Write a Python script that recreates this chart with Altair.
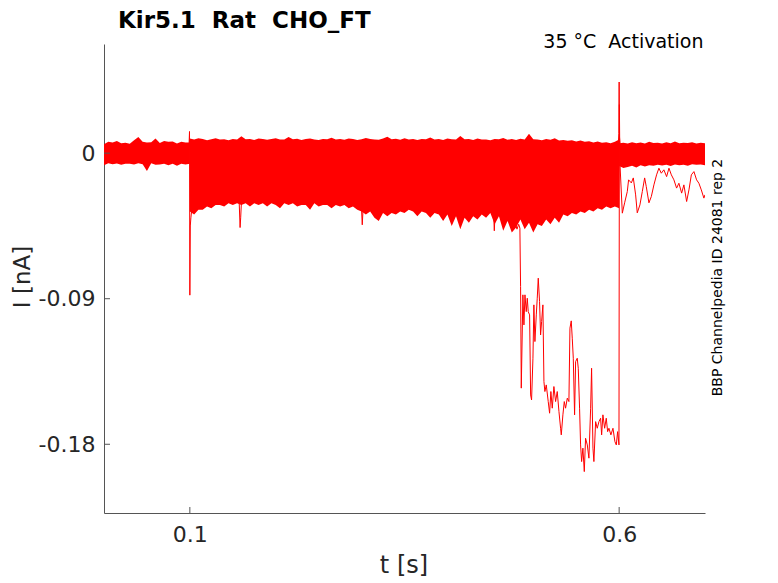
import altair as alt
import pandas as pd

RED = "#ff0000"
AXC = "#555555"
TXT = "#262626"
FONT = "DejaVu Sans"

# ---------------- data ----------------
# noise-band envelopes, sampled every 5 ms
# segment A: 0 .. 0.1 s (holding level)
A_hi = [0.0055, 0.0070, 0.0066, 0.0075, 0.0062, 0.0064, 0.0058, 0.0080, 0.0100, 0.0070,
        0.0066, 0.0068, 0.0090, 0.0063, 0.0075, 0.0070, 0.0072, 0.0060, 0.0070, 0.0066, 0.0066]
A_lo = [-0.0075, -0.0062, -0.0068, -0.0064, -0.0072, -0.0066, -0.0066, -0.0070, -0.0062, -0.0068,
        -0.0110, -0.0062, -0.0072, -0.0070, -0.0066, -0.0075, -0.0065, -0.0078, -0.0066, -0.0070, -0.0066]
# segment B: 0.1 .. 0.6 s (test pulses)
B_hi = [0.0090, 0.0084, 0.0092, 0.0088, 0.0080, 0.0086, 0.0092, 0.0085, 0.0086, 0.0080,
        0.0088, 0.0084, 0.0105, 0.0086, 0.0088, 0.0082, 0.0090, 0.0087, 0.0083, 0.0088,
        0.0092, 0.0085, 0.0084, 0.0100, 0.0086, 0.0089, 0.0082, 0.0088, 0.0090, 0.0084,
        0.0081, 0.0088, 0.0086, 0.0096, 0.0084, 0.0088, 0.0083, 0.0090, 0.0087, 0.0082,
        0.0086, 0.0094, 0.0088, 0.0084, 0.0083, 0.0090, 0.0102, 0.0086, 0.0089, 0.0083,
        0.0092, 0.0085, 0.0087, 0.0082, 0.0088, 0.0086, 0.0097, 0.0084, 0.0088, 0.0082,
        0.0090, 0.0086, 0.0084, 0.0106, 0.0086, 0.0088, 0.0082, 0.0090, 0.0085, 0.0084,
        0.0080, 0.0088, 0.0086, 0.0094, 0.0083, 0.0087, 0.0082, 0.0089, 0.0085, 0.0120,
        0.0086, 0.0085, 0.0080, 0.0087, 0.0083, 0.0092, 0.0078, 0.0082, 0.0076, 0.0080,
        0.0072, 0.0078, 0.0070, 0.0074, 0.0066, 0.0072, 0.0064, 0.0068, 0.0062, 0.0070, 0.0085]
B_lo = [-0.036, -0.038, -0.035, -0.035, -0.033, -0.034, -0.032, -0.032, -0.033, -0.031,
        -0.032, -0.031, -0.032, -0.031, -0.033, -0.031, -0.032, -0.031, -0.033, -0.031,
        -0.032, -0.034, -0.031, -0.032, -0.031, -0.033, -0.032, -0.032, -0.035, -0.031,
        -0.033, -0.032, -0.032, -0.034, -0.032, -0.033, -0.032, -0.034, -0.033, -0.035,
        -0.036, -0.038, -0.036, -0.040, -0.042, -0.037, -0.039, -0.037, -0.038, -0.036,
        -0.037, -0.035, -0.036, -0.039, -0.036, -0.037, -0.040, -0.037, -0.038, -0.042,
        -0.038, -0.045, -0.039, -0.047, -0.040, -0.043, -0.039, -0.041, -0.038, -0.040,
        -0.037, -0.044, -0.039, -0.048, -0.042, -0.049, -0.046, -0.041, -0.047, -0.043,
        -0.049, -0.044, -0.045, -0.041, -0.044, -0.040, -0.043, -0.038, -0.039, -0.037,
        -0.038, -0.036, -0.037, -0.035, -0.036, -0.034, -0.035, -0.033, -0.034, -0.033, -0.034]
# segment C: 0.6 .. 0.7 s (tail)
C_hi = [0.0062, 0.0065, 0.0060, 0.0068, 0.0062, 0.0066, 0.0060, 0.0070, 0.0063, 0.0064,
        0.0060, 0.0068, 0.0062, 0.0072, 0.0061, 0.0065, 0.0063, 0.0067, 0.0060, 0.0064, 0.0062]
C_lo = [-0.0080, -0.0092, -0.0085, -0.0078, -0.0088, -0.0075, -0.0082, -0.0074, -0.0078, -0.0072,
        -0.0076, -0.0072, -0.0080, -0.0070, -0.0074, -0.0071, -0.0078, -0.0069, -0.0072, -0.0070, -0.0075]
A_t0, B_t0, C_t0, DT = 0.0, 0.1, 0.6, 0.005

# narrow transients
step_t = [0.0990, 0.0996, 0.1000, 0.1005, 0.1012, 0.1020]
step_i = [0.0040, 0.0134, -0.0878, -0.0450, -0.0400, -0.0360]
dip1_t = [0.1575, 0.1585, 0.1592, 0.1600]
dip1_i = [-0.031, -0.046, -0.040, -0.031]
dip2_t = [0.3000, 0.3008, 0.3016]
dip2_i = [-0.035, -0.0443, -0.036]
dip3_t = [0.4538, 0.4546, 0.4554]
dip3_i = [-0.037, -0.0480, -0.038]
end_t = [0.5990, 0.5996, 0.6000, 0.6004, 0.6010]
end_i = [0.0050, 0.0120, 0.0440, 0.0100, 0.0060]

# the trace that opens strongly near 0.48 s and stays partly open after 0.6 s
big_t = [0.4780, 0.4810, 0.4830, 0.4844, 0.4852, 0.4860, 0.4879, 0.4891, 0.4903, 0.4918,
         0.4930, 0.4941, 0.4957, 0.4969, 0.4980, 0.4996, 0.5007, 0.5019, 0.5035, 0.5046,
         0.5058, 0.5073, 0.5085, 0.5097, 0.5112, 0.5124, 0.5135, 0.5151, 0.5174, 0.5190,
         0.5205, 0.5221, 0.5240, 0.5260, 0.5279, 0.5299, 0.5318, 0.5326, 0.5345, 0.5361,
         0.5376, 0.5396, 0.5415, 0.5427, 0.5442, 0.5454, 0.5466, 0.5481, 0.5493, 0.5512,
         0.5524, 0.5539, 0.5551, 0.5563, 0.5578, 0.5594, 0.5609, 0.5629, 0.5648, 0.5668,
         0.5679, 0.5695, 0.5706, 0.5726, 0.5745, 0.5765, 0.5784, 0.5796, 0.5811, 0.5831,
         0.5850, 0.5866, 0.5881, 0.5904, 0.5928, 0.5951, 0.5967, 0.5982, 0.5998, 0.6003,
         0.6008,
         0.6037, 0.6064, 0.6095, 0.6110, 0.6142, 0.6165, 0.6192, 0.6211, 0.6242, 0.6270,
         0.6297, 0.6316, 0.6347, 0.6375, 0.6405, 0.6436, 0.6463, 0.6491, 0.6521, 0.6553,
         0.6580, 0.6608, 0.6638, 0.6669, 0.6696, 0.6728, 0.6754, 0.6786, 0.6813, 0.6841,
         0.6871, 0.6902, 0.6929, 0.6957, 0.6987, 0.6999]
big_i = [-0.0410, -0.0470, -0.0440, -0.0464, -0.0825, -0.1453, -0.0876, -0.1062, -0.0876, -0.0980,
         -0.0897, -0.0980, -0.1000, -0.1495, -0.1526, -0.1268, -0.0938, -0.1165, -0.1000, -0.0897,
         -0.0773, -0.0918, -0.1124, -0.1041, -0.0938, -0.1412, -0.1474, -0.1433, -0.1536, -0.1608,
         -0.1474, -0.1577, -0.1443, -0.1536, -0.1474, -0.1598, -0.1701, -0.1742, -0.1618, -0.1536,
         -0.1577, -0.1515, -0.1536, -0.1082, -0.1037, -0.1144, -0.1268, -0.1618, -0.1289, -0.1268,
         -0.1330, -0.1577, -0.1804, -0.1907, -0.1824, -0.1969, -0.1763, -0.1804, -0.1886, -0.1577,
         -0.1330, -0.1824, -0.1907, -0.1660, -0.1701, -0.1660, -0.1639, -0.1742, -0.1618, -0.1701,
         -0.1639, -0.1722, -0.1701, -0.1742, -0.1701, -0.1784, -0.1804, -0.1722, -0.1804, 0.0300,
         -0.0050,
         -0.0371, -0.0307, -0.0237, -0.0165, -0.0184, -0.0153, -0.0258, -0.0369, -0.0320, -0.0237,
         -0.0153, -0.0207, -0.0307, -0.0268, -0.0196, -0.0134, -0.0093, -0.0124, -0.0103, -0.0145,
         -0.0093, -0.0134, -0.0165, -0.0216, -0.0186, -0.0247, -0.0196, -0.0299, -0.0227, -0.0134,
         -0.0114, -0.0165, -0.0186, -0.0227, -0.0278, -0.0258]

x_ticks = [0.1, 0.6]
x_tick_labels = ["0.1", "0.6"]
y_ticks = [0, -0.09, -0.18]
y_tick_labels = ["0", "-0.09", "-0.18"]

NB = "\u00a0"  # keeps the doubled spaces of the original labels
TITLE = f"Kir5.1 {NB}Rat {NB}CHO_FT"
SUBTITLE = f"35 \u00b0C {NB}Activation"
SIDE = "BBP Channelpedia ID 24081 rep 2"
XTITLE = "t [s]"
YTITLE = "I [nA]"

# ---------------- tables ----------------
rows = []
for seg, t0, hi, lo in (("A", A_t0, A_hi, A_lo), ("B", B_t0, B_hi, B_lo), ("C", C_t0, C_hi, C_lo)):
    assert len(hi) == len(lo), seg
    for k, (h, l) in enumerate(zip(hi, lo)):
        rows.append({"seg": seg, "t": round(t0 + k * DT, 4), "hi": h, "lo": l})
band_df = pd.DataFrame(rows)

lrows = []
for name, ts, vs in (("step", step_t, step_i), ("dip1", dip1_t, dip1_i), ("dip2", dip2_t, dip2_i),
                     ("dip3", dip3_t, dip3_i), ("end", end_t, end_i), ("big", big_t, big_i)):
    assert len(ts) == len(vs), name
    for k, (t, v) in enumerate(zip(ts, vs)):
        lrows.append({"id": name, "k": k, "t": t, "i": v})
line_df = pd.DataFrame(lrows)

W, H = 601, 469
xs = alt.Scale(domain=[0, 0.7], nice=False, zero=False)
ys = alt.Scale(domain=[-0.2225, 0.0675], nice=False, zero=False)

lab_expr = " : ".join(
    f"abs(datum.value - ({v})) < 1e-9 ? '{l}'" for v, l in zip(y_ticks, y_tick_labels)
) + " : ''"
xlab_expr = " : ".join(
    f"abs(datum.value - ({v})) < 1e-9 ? '{l}'" for v, l in zip(x_ticks, x_tick_labels)
) + " : ''"

xaxis = alt.Axis(values=x_ticks, labelExpr=xlab_expr, title=None, ticks=False, grid=False,
                 labelPadding=11, labelFontSize=22, labelFont=FONT, labelColor=TXT,
                 domainColor=AXC, domainWidth=1)
yaxis = alt.Axis(values=y_ticks, labelExpr=lab_expr, title=None, ticks=False, grid=False,
                 labelPadding=9, labelFontSize=22, labelFont=FONT, labelColor=TXT,
                 domainColor=AXC, domainWidth=1)

X = lambda f: alt.X(f, type="quantitative", scale=xs, axis=xaxis)
Y = lambda f: alt.Y(f, type="quantitative", scale=ys, axis=yaxis)

band = alt.Chart(band_df).mark_area(color=RED, opacity=1, clip=True).encode(
    x=X("t"), y=Y("lo"), y2="hi", detail="seg:N")

lines = alt.Chart(line_df).mark_line(color=RED, strokeWidth=1, clip=True).encode(
    x=X("t"), y=Y("i"), detail="id:N", order="k:Q")

xt = alt.Chart(pd.DataFrame({"t": x_ticks})).mark_rule(color=AXC, strokeWidth=1).encode(
    x=X("t"), y=alt.value(H), y2=alt.value(H - 6))
yt = alt.Chart(pd.DataFrame({"i": y_ticks})).mark_rule(color=AXC, strokeWidth=1).encode(
    y=Y("i"), x=alt.value(0), x2=alt.value(6))


def label(text, **kw):
    px, py = kw.pop("px"), kw.pop("py")
    return alt.Chart(pd.DataFrame({"s": [text]})).mark_text(font=FONT, **kw).encode(
        x=alt.value(px), y=alt.value(py), text="s:N")


title = label(TITLE, px=14, py=-16, fontSize=23, fontWeight="bold", color="#000000",
              align="left", baseline="alphabetic")
sub = label(SUBTITLE, px=599.5, py=3.5, fontSize=19, color="#000000",
            align="right", baseline="alphabetic")
side = label(SIDE, px=618, py=233.5, fontSize=14, color="#000000", angle=270,
             align="center", baseline="alphabetic")
xtitle = label(XTITLE, px=300, py=529, fontSize=24, color=TXT, align="center", baseline="alphabetic")
ytitle = label(YTITLE, px=-74, py=233, fontSize=23, color=TXT, angle=270,
               align="center", baseline="alphabetic")

chart = alt.layer(band, lines, xt, yt, title, sub, side, xtitle, ytitle).properties(
    width=W, height=H,
    padding={"left": 96, "top": 36, "right": 60, "bottom": 70},
    autosize=alt.AutoSizeParams(type="none"),
    background="white",
).configure_view(stroke=None)

chart.save("out.html", embed_options={"renderer": "svg", "actions": False})
